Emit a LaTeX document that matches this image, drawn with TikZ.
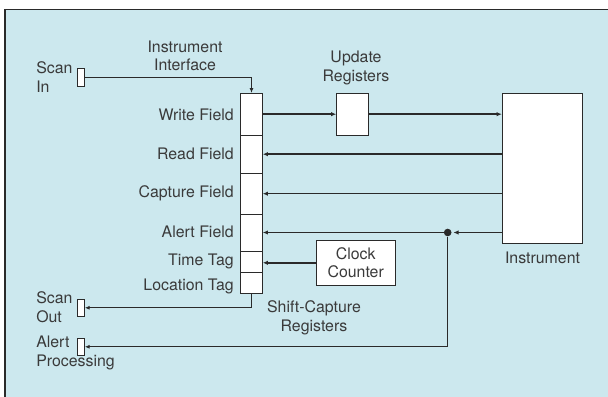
\documentclass[tikz,border=0pt]{standalone}
\usepackage{fontspec}
\setsansfont{TeX Gyre Heros}
\usepackage{tikz}
\usetikzlibrary{arrows.meta,positioning,calc}
\definecolor{panel}{HTML}{CCE8EE}
\definecolor{edge}{HTML}{2A2A2A}
\definecolor{ink}{HTML}{3A3A3A}

\begin{document}
\begin{tikzpicture}[x=0.25mm,y=-0.25mm,
 font=\fontsize{11.3}{13.2}\selectfont\sffamily, text=ink,
 cell/.style={draw=edge,fill=white,line width=0.7pt,minimum width=5.4mm,inner sep=0pt},
 box/.style={draw=edge,fill=white,line width=0.6pt,inner sep=0pt,align=center},
 port/.style={draw=edge,fill=white,line width=0.5pt,minimum width=1.75mm,inner sep=0pt},
 lbl/.style={align=center,inner sep=0pt},
 field/.style={anchor=east,inner sep=0pt},
 arr/.style={-{Latex[length=1.3mm,width=1.1mm]},line width=1pt,draw=edge},
 sarr/.style={-{Latex[length=1.2mm,width=1mm]},line width=0.65pt,draw=edge}
]
\useasboundingbox (0,0) rectangle (608,397);
\fill[panel] (5,9.5) rectangle (608,397);
\draw[edge,line width=1pt] (5,397) -- (5,9.5) -- (608,9.5);

% shift-capture register column
\node[cell,minimum height=10.4mm] (wf) at (251.5,114.2) {};
\node[cell,minimum height=9.6mm] (rf) at (251.5,154.2) {};
\node[cell,minimum height=10.2mm] (cf) at (251.5,193.7) {};
\node[cell,minimum height=9.25mm] (af) at (251.5,232.5) {};
\node[cell,minimum height=5.4mm] (tt) at (251.5,261.8) {};
\node[cell,minimum height=5.15mm] (lt) at (251.5,283) {};

\node[field] (wfl) at (234,115) {Write Field};
\node[field] (rfl) at (234,154) {Read Field};
\node[field] (cfl) at (234,193) {Capture Field};
\node[field] (afl) at (234,232) {Alert Field};
\node[field] (ttl) at (234,261) {Time Tag};
\node[field] (ltl) at (234,286) {Location Tag};
\node[lbl] (scr) at (314,318) {Shift-Capture\\Registers};

% other blocks
\node[box,minimum width=7.9mm,minimum height=10.4mm] (upd) at (352.5,114.2) {};
\node[lbl] (updl) at (356,68) {Update\\Registers};
\node[box,minimum width=20.1mm,minimum height=37.5mm] (inst) at (542.5,168.3) {};
\node[lbl,below=2.1mm of inst] (instl) {Instrument};
\node[box,minimum width=19.8mm,minimum height=11.4mm] (clk) at (355.7,262.8) {Clock\\Counter};
\node[lbl] (ifl) at (185,56) {Instrument\\Interface};

% ports
\node[port,minimum height=4.6mm] (sin) at (80.8,77.5) {};
\node[port,minimum height=4.4mm] (sout) at (81,307.8) {};
\node[port,minimum height=4.25mm] (ap) at (81,346.8) {};
\node[lbl,anchor=west,align=left] (sinl) at (36,77) {Scan\\In};
\node[lbl,anchor=west,align=left] (soutl) at (36,307) {Scan\\Out};
\node[lbl,anchor=west,align=left] (apl) at (36,353) {Alert\\Processing};

\node[circle,fill=edge,minimum size=1.9mm,inner sep=0pt] (tap) at (447.7,232.5) {};

% connectors
\draw[sarr] (sin.east) -| (wf.north);
\draw[arr] (wf.east) -- (upd.west);
\draw[arr] (upd.east) -- (upd.east -| inst.west);
\draw[arr] (inst.west |- rf) -- (rf.east);
\draw[arr] (inst.west |- cf) -- (cf.east);
\draw[arr,shorten >=0.4mm] (inst.west |- tap) -- (tap);
\draw[arr] (tap) -- (af.east);
\draw[sarr] (tap) |- (ap.east);
\draw[arr] (clk.west) -- (clk.west -| tt.east);
\draw[sarr] (lt.south) |- (sout.east);
\end{tikzpicture}
\end{document}
